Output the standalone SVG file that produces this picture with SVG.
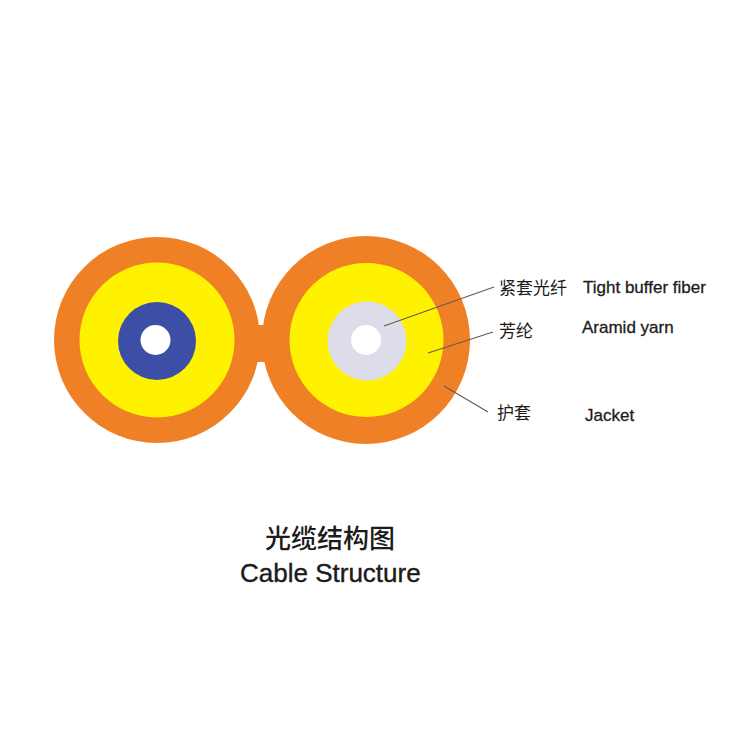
<svg xmlns="http://www.w3.org/2000/svg" width="750" height="750" viewBox="0 0 750 750">
<style>
.jacket{fill:#ef8026}
.yarn{fill:#fff200}
.hole{fill:#fff}
.lead{fill:none;stroke:#6b5a4a;stroke-width:1.2}
.cn{font-family:"Noto Sans CJK SC","Liberation Sans",sans-serif;fill:#1c1c1c;font-size:17px}
.en{font-family:"Liberation Sans",Arial,sans-serif;fill:#1c1c1c;font-size:17px;stroke:#1c1c1c;stroke-width:.3}
.cap{font-size:26px;stroke-width:.4}
</style>
<rect width="750" height="750" fill="#fff"/>
<g id="cable-left">
<circle class="jacket" cx="157" cy="340" r="103"/>
<circle class="yarn" cx="157" cy="340" r="77.5"/>
<circle cx="157" cy="341" r="39" fill="#3d4ea6"/>
<circle class="hole" cx="155.500" cy="340" r="15"/>
</g>
<g id="bridge"><rect class="jacket" x="250" y="325" width="22" height="37"/></g>
<g id="cable-right">
<circle class="jacket" cx="366" cy="340" r="104"/>
<circle class="yarn" cx="366.500" cy="340" r="77"/>
<circle cx="367" cy="341" r="39.500" fill="#dcdde8"/>
<circle class="hole" cx="366" cy="340" r="15"/>
</g>
<g id="connectors">
<line class="lead" x1="384" y1="326" x2="494" y2="287"/>
<line class="lead" x1="428" y1="353" x2="493" y2="332"/>
<line class="lead" x1="444" y1="386" x2="488" y2="412"/>
</g>
<g id="label-tight-buffer">
<text class="cn" x="499" y="294">紧套光纤</text>
<text class="en" x="583" y="293">Tight buffer fiber</text>
</g>
<g id="label-aramid">
<text class="cn" x="499" y="337">芳纶</text>
<text class="en" x="582" y="333">Aramid yarn</text>
</g>
<g id="label-jacket">
<text class="cn" x="497" y="419">护套</text>
<text class="en" x="585" y="421">Jacket</text>
</g>
<g id="caption">
<text class="cn cap" x="265" y="548" font-weight="500">光缆结构图</text>
<text class="en cap" x="240" y="582">Cable Structure</text>
</g>
</svg>
